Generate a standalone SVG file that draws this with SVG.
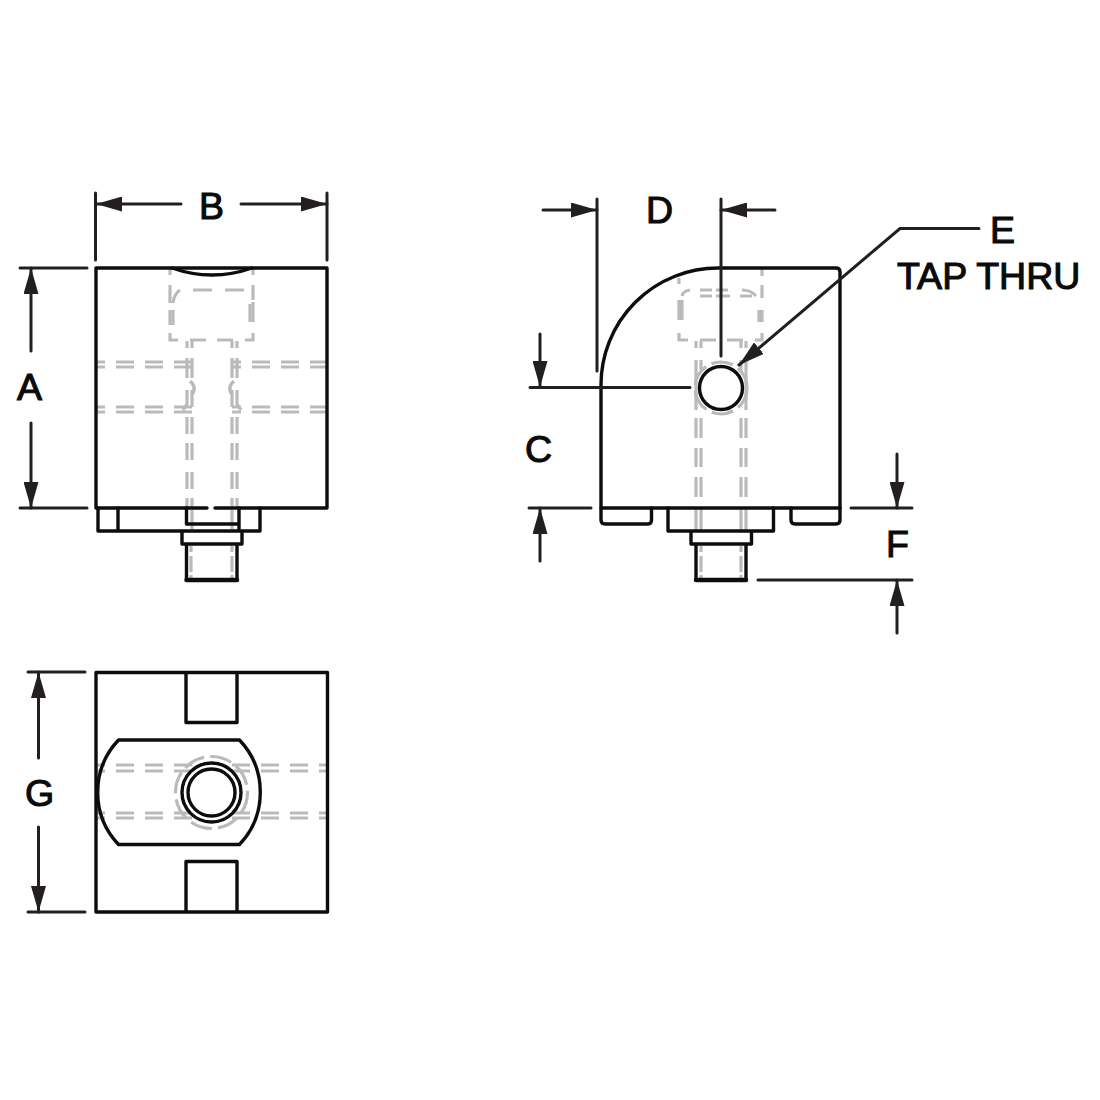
<svg xmlns="http://www.w3.org/2000/svg" width="1100" height="1100" viewBox="0 0 1100 1100">
<style>
.o{fill:none;stroke:#0d0d0d;stroke-width:3.4;stroke-linejoin:round;stroke-linecap:round}
.w{fill:#fff}
.g{fill:none;stroke:#b9bbbb;stroke-width:3.2}
.h{stroke-dasharray:18 11;stroke-dashoffset:9}
.d{fill:none;stroke:#231f20;stroke-width:3;stroke-linecap:round}
.a{marker-end:url(#tip)}
text{font-family:"Liberation Sans",Arial,sans-serif;font-size:37.500px;fill:#0a0a0a;stroke:#0a0a0a;stroke-width:1.100}
</style>
<defs>
<marker id="tip" markerUnits="userSpaceOnUse" markerWidth="26" markerHeight="15" refX="26" refY="7.5" orient="auto"><path d="M0 0L26 7.5L0 15Z" fill="#231f20"/></marker>
</defs>
<rect width="1100" height="1100" fill="#fff"/>

<g id="front-view">
<g class="g">
<path d="M170 268V275M170 285V303M170 310V325M170 333V340H178M190 340H206M217 340H233M245 340H253V333M253 322V302M253 300V285M253 275V268"/>
<path d="M173 303Q174 294 180 290M193 290H212M225 290H244M250 304V322M173 310V325"/>
<path d="M187 341V348M192 341V348M232 341V348M237 341V348"/>
<path d="M187 358V378M192 358V378M232 358V378M237 358V378M190 381Q198 388 191 396M234 381Q226 388 233 396M187 390V404L183 410M237 390V404L241 410M192 390V407M232 390V407"/>
<path d="M187 417V434M192 417V434M232 417V434M237 417V434M187 443V460M192 443V460M232 443V460M237 443V460M187 472V489M192 472V489M232 472V489M237 472V489M187 498V507M192 498V507M232 498V507M237 498V507M192 510V530M232 510V530M191 546V552M191 556V572M191 575V580M232 546V552M232 556V572M232 575V580"/>
<path class="h" d="M96 362H192M96 367H192M232 362H327M232 367H327M96 407H192M96 412H192M232 407H327M232 412H327"/>
</g>
<path class="o" d="M207 508H96V268H327V508H239M215 508H239"/>
<path class="o" d="M172 268Q212 282 252 268M98 508V531H260V508M118 508V531M186.500 508V524H239V531M239 508V524M182 531V544H242V531M182 544H242M186.500 544V580H237V544"/>
<path class="o" d="M186.500 580H237" style="stroke-width:4.500"/>
</g>

<g id="side-view">
<g class="g">
<path d="M679 278V284M762 268V276M762 285V298M679 300V320M682 300V320M762 310V322M759 310V322M679 333V340H688M700 340H716M727 340H743M755 340H762V333"/>
<path d="M682 296Q683 291 690 290M700 290H712M716 296H730M716 290H728M742 290Q751 290 756 296M700 296H712M740 296H752"/>
<path d="M696 341V348M701 341V348M741 341V348M746 341V348M696 360V410M701 360V370M741 360V370M746 360V410M696 418V438M701 418V438M741 418V438M746 418V438M696 448V467M701 448V467M741 448V467M746 448V467M696 477V497M701 477V497M741 477V497M746 477V497M696 508V530M701 508V530M741 508V530M746 508V530M701 546V552M701 556V572M701 575V580M741 546V552M741 556V572M741 575V580"/>
<circle cx="721" cy="388" r="26" stroke-dasharray="22 6"/>
</g>
<path class="o" d="M601 508V385A117 117 0 0 1 718 268H836Q840 268 840 272V508Z"/>
<path class="o" d="M601 508V520Q601 524 605 524H648Q651.500 524 651.500 520V508M791 508V520Q791 524 795 524H836Q840 524 840 520V508M668 508V531H773.500V508M668 531H773.500M691 531V544H751.500V531M691 544H751.500M696 544V580H746V544"/>
<path class="o" d="M696 580H746" style="stroke-width:4.500"/>
<circle class="o w" cx="721" cy="388" r="21.500"/>
</g>

<g id="bottom-view">
<path class="g h" d="M96 765H327M96 771H327M96 813H327M96 818H327"/>
<path class="o" d="M96 672.500H327.500V912H96ZM186 672.500V722.500H237V672.500M186 912V861.500H237V912"/>
<path class="o" d="M118.500 740H239.500A76 76 0 0 1 239.500 844.500H118.500A76 76 0 0 1 118.500 740Z"/>
<circle class="g" cx="211.500" cy="792.500" r="36" stroke-dasharray="22 6"/>
<circle class="o w" cx="211.500" cy="792.500" r="29.500"/>
<circle class="o w" cx="211.500" cy="792.500" r="23.500"/>
</g>

<g id="connectors">
<path class="d" d="M95.500 193V260M327 193V260M20 268H87M20 508H87M28 672H85M28 912H85"/>
<path class="d a" d="M181 204H96"/>
<path class="d a" d="M241 204H327"/>
<path class="d a" d="M31 351V268"/>
<path class="d a" d="M31 423V508"/>
<path class="d a" d="M38.500 758V672"/>
<path class="d a" d="M38.500 827V912"/>
<path class="d" d="M597 199V371M721 199V356M530 387.500H690M529 508H591M851 508H912M758 580H912"/>
<path class="d a" d="M543 210H597"/>
<path class="d a" d="M775 210H721"/>
<path class="d a" d="M540 334V387"/>
<path class="d a" d="M540 561V508"/>
<path class="d a" d="M897 454V508"/>
<path class="d a" d="M897 633V580"/>
<path class="d a" d="M979 228.500H900L739 365"/>
</g>

<g id="labels">
<text x="199" y="219">B</text>
<text x="17" y="400">A</text>
<text x="25" y="806">G</text>
<text x="646" y="223">D</text>
<text x="525" y="462">C</text>
<text x="990" y="243">E</text>
<text x="897" y="289">TAP THRU</text>
<text x="886" y="557">F</text>
</g>
</svg>
